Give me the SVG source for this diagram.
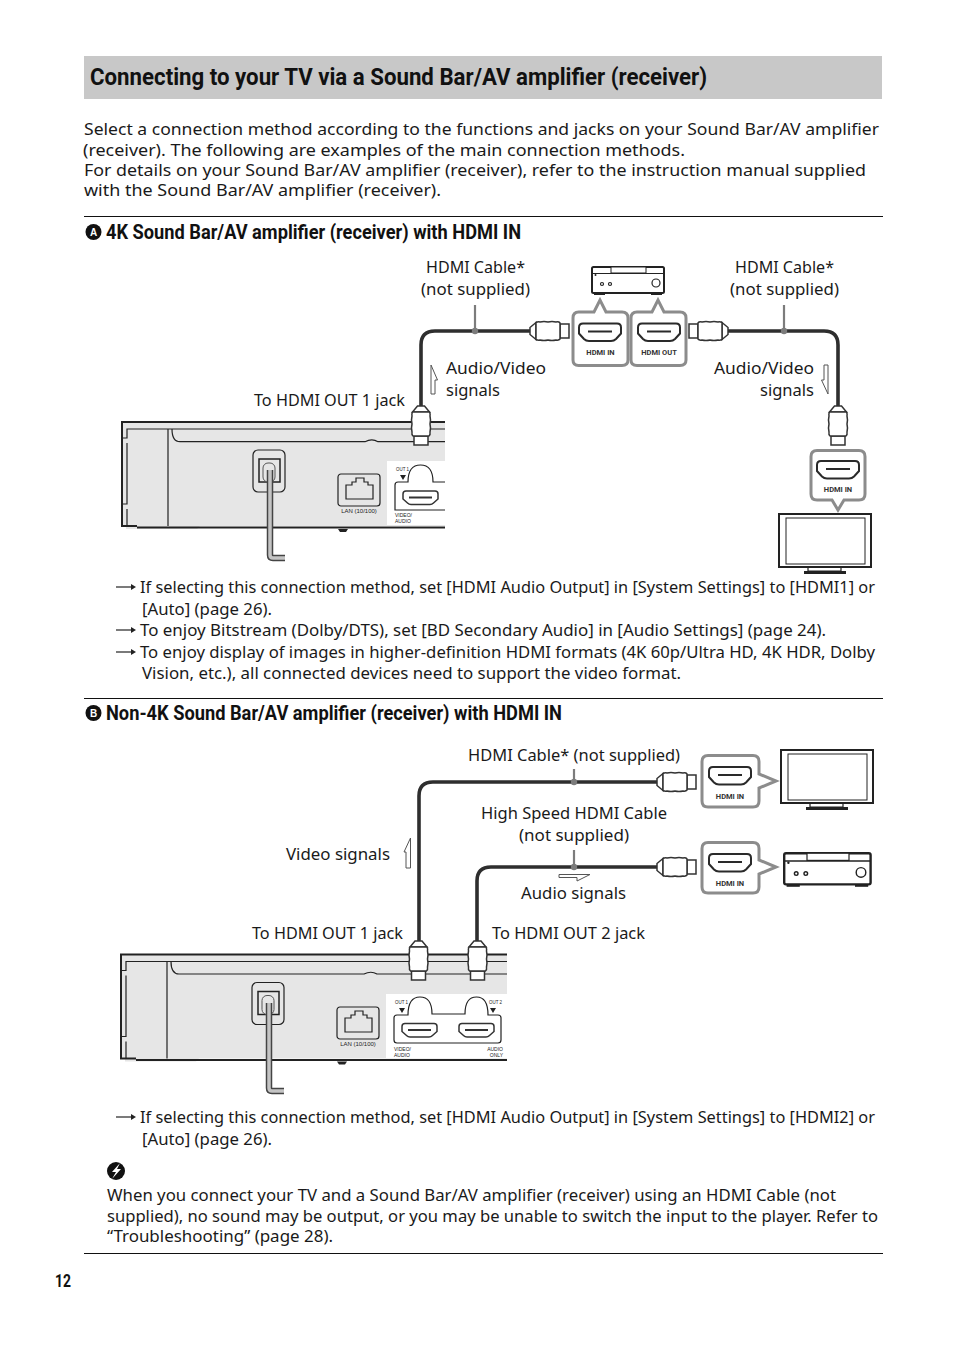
<svg xmlns="http://www.w3.org/2000/svg" width="954" height="1352" viewBox="0 0 954 1352">
<style>
text{font-family:"Noto Sans","Open Sans","Liberation Sans",sans-serif;font-size:16.6px;fill:#1a1a1a}
.s{font-size:15.900px}
.h{font-family:"Roboto","Open Sans",sans-serif;font-weight:700;fill:#111}
.m{text-anchor:middle}
.e{text-anchor:end}
.t{font-family:"Liberation Sans",sans-serif;font-size:5px;fill:#222}
.p{font-family:"Roboto","Liberation Sans",sans-serif;font-weight:700;font-size:7.5px;text-anchor:middle;fill:#333}
.rule{stroke:#111;stroke-width:1;fill:none}
.cable{stroke:#2e2e2e;stroke-width:3.6;fill:none}
.tick{stroke:#7c7c7c;stroke-width:2.2;fill:none}
.box{fill:#fff;stroke:#8c8c8c;stroke-width:3}
.sig{fill:#fff;stroke:#555;stroke-width:1}
.k{fill:none;stroke:#222;stroke-width:1.2}
.k2{fill:none;stroke:#222;stroke-width:2}
.pl{fill:#fff;stroke:#333;stroke-width:1.5}
.body{fill:#e6e6e6}
</style>
<defs>
<g id="plug"><path class="pl" d="M30 -7H39V7H30Z"/><path class="pl" d="M0 -3.500L6 -8.500V8.500L0 3.500Z"/><path class="pl" d="M6 -8.500Q8 -9.500 10 -9Q14 -10 18 -9Q22 -10 26 -9Q29 -9.500 30 -8V8Q29 9.500 26 9Q22 10 18 9Q14 10 10 9Q8 9.500 6 8.500Z"/></g>
<g id="port"><path fill="#fff" stroke="#2a2a2a" stroke-width="2" d="M4 0H38Q42 0 42 4V10L37 15.500Q35 17.500 32 17.500H10Q7 17.500 5 15.500L0 10V4Q0 0 4 0Z"/><path stroke="#2a2a2a" stroke-width="2" d="M9 8H33"/></g>
<g id="jack"><path fill="#fff" stroke="#333" stroke-width="1.500" d="M3 0H32Q35 0 35 3V8L30.500 12Q29 13.500 27 13.500H8Q6 13.500 4.500 12L0 8V3Q0 0 3 0Z"/><path stroke="#333" stroke-width="2" d="M6 6.500H29"/></g>
<g id="optical"><rect class="k" x="0" y="0" width="32" height="42" rx="5"/><rect x="6" y="9" width="21" height="23" fill="none" stroke="#222" stroke-width="1.500"/><rect x="10" y="13" width="12" height="19" rx="5" fill="#e6e6e6" stroke="#555" stroke-width="1"/></g>
<g id="lan"><rect class="k" x="0" y="0" width="42" height="32" rx="3"/><path class="k" d="M8 25V11H14V8H18V4H26V8H30V11H35V25Z" stroke-width="1"/></g>
<g id="bullet"><path d="M0 0H17" stroke="#222" stroke-width="1.200"/><path d="M15 -3L20 0L15 3Z" fill="#222"/></g>
<g id="tv"><rect x="1" y="1" width="92" height="53" fill="#fff" stroke="#222" stroke-width="2"/><rect x="8" y="5" width="79" height="46" fill="#fff" stroke="#222" stroke-width="1"/><path d="M30 55V58H63V55" fill="none" stroke="#222" stroke-width="1.200"/><rect x="26" y="58" width="42" height="3" fill="#222"/></g>
<g id="recv"><rect x="1" y="1" width="72" height="26" rx="1.500" fill="#fff" stroke="#222" stroke-width="2"/><path d="M1 7.500H73" stroke="#222" stroke-width="1.200"/><rect x="20" y="1" width="35" height="6" fill="#fff" stroke="#222" stroke-width="1"/><circle cx="4.500" cy="9" r="1" fill="#222"/><circle cx="11" cy="18" r="1.500" class="k" stroke-width="1"/><circle cx="19" cy="18" r="1.500" class="k" stroke-width="1"/><circle cx="65" cy="17" r="4" class="k"/><rect x="3" y="27" width="11" height="2" fill="#222"/><rect x="60" y="27" width="11" height="2" fill="#222"/></g>
</defs>

<g id="header"><rect x="84" y="56" width="798" height="43" fill="#c8c8c8"/>
<text class="h" x="90" y="85" style="font-size:24.500px" textLength="617" lengthAdjust="spacingAndGlyphs">Connecting to your TV via a Sound Bar/AV amplifier (receiver)</text></g>

<g id="intro">
<text x="84" y="135" textLength="795" lengthAdjust="spacingAndGlyphs">Select a connection method according to the functions and jacks on your Sound Bar/AV amplifier</text>
<text class="s" x="83" y="156" textLength="602" lengthAdjust="spacingAndGlyphs">(receiver). The following are examples of the main connection methods.</text>
<text class="s" x="84" y="176" textLength="782" lengthAdjust="spacingAndGlyphs">For details on your Sound Bar/AV amplifier (receiver), refer to the instruction manual supplied</text>
<text class="s" x="84" y="196" textLength="357" lengthAdjust="spacingAndGlyphs">with the Sound Bar/AV amplifier (receiver).</text>
</g>
<path class="rule" d="M84 216.500H883M84 698.500H883M84 1253.500H883"/>

<g id="heading-a"><circle cx="93.500" cy="232" r="8" fill="#111"/><text x="93.500" y="235.500" class="m" style="font-size:10px;fill:#fff;font-weight:700;font-family:'Liberation Sans',sans-serif">A</text>
<text class="h" x="106" y="239" style="font-size:19.500px" textLength="415" lengthAdjust="spacingAndGlyphs">4K Sound Bar/AV amplifier (receiver) with HDMI IN</text></g>

<g id="player-a">
<path class="body" d="M122 422H445V526H200L197 529H126V526H122Z"/>
<path class="k2" d="M445 422H122V526H137M137 527.500H445"/>
<path class="k" d="M445 429H127V438H122M127 443V504H122M127 509V526M168 429V526M172 429Q172 441.700 180 441.700H365Q372 438 378 441.700H445"/>
<path d="M338 529H348L346 532H340Z" fill="#222"/>
<rect x="387" y="461" width="58" height="64" fill="#fff"/>
<path class="k" d="M445 482H433Q433 465 420.500 465Q408 465 408 482H398Q395 482 395 485V510H445"/>
<text class="t" x="396" y="471" textLength="13" lengthAdjust="spacingAndGlyphs">OUT 1</text><path d="M400 475H406L403 480Z" fill="#222"/>
<use href="#jack" x="403" y="491"/>
<text class="t" x="395" y="517">VIDEO/</text><text class="t" x="395" y="523">AUDIO</text>
<use href="#optical" x="253" y="450"/>
<use href="#lan" x="338" y="474"/>
<text class="t m" x="359" y="513" style="font-size:6px">LAN (10/100)</text>
<path d="M270 470V555Q270 558 273 558H285" fill="none" stroke="#444" stroke-width="6.500"/><path d="M270 470V555Q270 558 273 558H285" fill="none" stroke="#c4c4c4" stroke-width="3.500"/>
</g>

<g id="receiver-a"><use href="#recv" x="591" y="266"/></g>
<g id="tv-a"><use href="#tv" x="778" y="513"/></g>
<g id="port-hdmi-in-a"><path class="box" d="M578.700 312H594L600 300L606 312H622Q628 312 628 318V360Q628 365.500 622 365.500H578.700Q573 365.500 573 360V318Q573 312 578.700 312Z"/><use href="#port" x="579" y="323.500"/><text class="p" x="600.500" y="355">HDMI IN</text></g>
<g id="port-hdmi-out-a"><path class="box" d="M637 312H652L658 300L664 312H680Q686 312 686 318V360Q686 365.500 680 365.500H637Q631 365.500 631 360V318Q631 312 637 312Z"/><use href="#port" x="638" y="323.500"/><text class="p" x="659" y="355">HDMI OUT</text></g>
<g id="port-tv-a"><path class="box" d="M817 450.500H859Q865 450.500 865 456.500V494Q865 500 859 500H844L838 510L832 500H817Q811 500 811 494V456.500Q811 450.500 817 450.500Z"/><use href="#port" x="817" y="461"/><text class="p" x="838" y="492">HDMI IN</text></g>

<g id="connectors-a">
<path class="cable" d="M532 331H435Q421 331 421 345V408"/>
<path class="cable" d="M726 331H824Q838 331 838 345V408"/>
<path class="tick" d="M475 305V331M784 305V331"/><circle cx="475" cy="331" r="3.200" fill="#7c7c7c"/><circle cx="784" cy="331" r="3.200" fill="#7c7c7c"/>
<use href="#plug" transform="translate(530 331)"/>
<use href="#plug" transform="translate(728 331) scale(-1 1)"/>
<use href="#plug" transform="translate(421 406) rotate(90)"/>
<use href="#plug" transform="translate(838 406) rotate(90)"/>
<path class="sig" d="M431 394H435V380H437.500L431 365Z"/>
<path class="sig" d="M828 365H824V380H821.500L828 394Z"/>
</g>

<g id="labels-a">
<text x="426" y="273" textLength="99" lengthAdjust="spacingAndGlyphs">HDMI Cable*</text><text x="421" y="295" textLength="109" lengthAdjust="spacingAndGlyphs">(not supplied)</text>
<text x="735" y="273" textLength="99" lengthAdjust="spacingAndGlyphs">HDMI Cable*</text><text x="730" y="295" textLength="109" lengthAdjust="spacingAndGlyphs">(not supplied)</text>
<text x="446" y="374" textLength="100" lengthAdjust="spacingAndGlyphs">Audio/Video</text><text x="446" y="396" textLength="54" lengthAdjust="spacingAndGlyphs">signals</text>
<text x="714" y="374" textLength="100" lengthAdjust="spacingAndGlyphs">Audio/Video</text><text x="760" y="396" textLength="54" lengthAdjust="spacingAndGlyphs">signals</text>
<text x="254" y="406" textLength="151" lengthAdjust="spacingAndGlyphs">To HDMI OUT 1 jack</text>
</g>

<g id="notes-a">
<use href="#bullet" x="116" y="587"/><use href="#bullet" x="116" y="630"/><use href="#bullet" x="116" y="652"/>
<text x="140" y="593" textLength="735" lengthAdjust="spacingAndGlyphs">If selecting this connection method, set [HDMI Audio Output] in [System Settings] to [HDMI1] or</text>
<text x="142" y="615" textLength="130" lengthAdjust="spacingAndGlyphs">[Auto] (page 26).</text>
<text x="140" y="636" textLength="686" lengthAdjust="spacingAndGlyphs">To enjoy Bitstream (Dolby/DTS), set [BD Secondary Audio] in [Audio Settings] (page 24).</text>
<text x="140" y="658" textLength="735" lengthAdjust="spacingAndGlyphs">To enjoy display of images in higher-definition HDMI formats (4K 60p/Ultra HD, 4K HDR, Dolby</text>
<text x="142" y="679" textLength="539" lengthAdjust="spacingAndGlyphs">Vision, etc.), all connected devices need to support the video format.</text>
</g>

<g id="heading-b"><circle cx="93.500" cy="713" r="8" fill="#111"/><text x="93.500" y="716.500" class="m" style="font-size:10px;fill:#fff;font-weight:700;font-family:'Liberation Sans',sans-serif">B</text>
<text class="h" x="106" y="720" style="font-size:19.500px" textLength="456" lengthAdjust="spacingAndGlyphs">Non-4K Sound Bar/AV amplifier (receiver) with HDMI IN</text></g>

<g id="player-b">
<path class="body" d="M121 954.500H507V1058.500H199L196 1061.500H125V1058.500H121Z"/>
<path class="k2" d="M507 954.500H121V1058.500H136M136 1060H507"/>
<path class="k" d="M507 961.500H126V970.500H121M126 975.500V1036.500H121M126 1041.500V1058.500M167 961.500V1058.500M171 961.500Q171 974 179 974H364Q371 970.500 377 974H507"/>
<path d="M337 1061.500H347L345 1064.500H339Z" fill="#222"/>
<rect x="386" y="994" width="121" height="64" fill="#fff"/>
<path class="k" d="M394 1040V1018Q394 1015 397 1015H408Q408 997 420 997Q432 997 432 1014H465Q465 997 476.500 997Q488 997 488 1015H498Q501 1015 501 1018V1040Q501 1043 498 1043H397Q394 1043 394 1040Z"/>
<text class="t" x="395" y="1004" textLength="13" lengthAdjust="spacingAndGlyphs">OUT 1</text><path d="M399 1008H405L402 1013Z" fill="#222"/>
<text class="t" x="489" y="1004" textLength="13" lengthAdjust="spacingAndGlyphs">OUT 2</text><path d="M490 1008H496L493 1013Z" fill="#222"/>
<use href="#jack" x="402" y="1023.500"/><use href="#jack" x="459" y="1023.500"/>
<text class="t" x="394" y="1051">VIDEO/</text><text class="t" x="394" y="1057">AUDIO</text>
<text class="t e" x="503" y="1051">AUDIO</text><text class="t e" x="503" y="1057">ONLY</text>
<use href="#optical" x="252" y="982.500"/>
<use href="#lan" x="337" y="1007"/>
<text class="t m" x="358" y="1045.500" style="font-size:6px">LAN (10/100)</text>
<path d="M269 1003V1088Q269 1091 272 1091H284" fill="none" stroke="#444" stroke-width="6.500"/><path d="M269 1003V1088Q269 1091 272 1091H284" fill="none" stroke="#c4c4c4" stroke-width="3.500"/>
</g>

<g id="tv-b"><use href="#tv" x="780" y="749"/></g>
<g id="receiver-b"><use href="#recv" transform="translate(783 852) scale(1.200)"/></g>
<g id="port-tv-b"><path class="box" d="M708 755.500H753Q759 755.500 759 761.500V774L776 781L759 788V801Q759 807 753 807H708Q702 807 702 801V761.500Q702 755.500 708 755.500Z"/><use href="#port" x="709" y="767"/><text class="p" x="730" y="799">HDMI IN</text></g>
<g id="port-recv-b"><path class="box" d="M708 842.500H753Q759 842.500 759 848.500V860L776 867L759 874V887Q759 893 753 893H708Q702 893 702 887V848.500Q702 842.500 708 842.500Z"/><use href="#port" x="709" y="854"/><text class="p" x="730" y="886">HDMI IN</text></g>

<g id="connectors-b">
<path class="cable" d="M659 782H433Q419 782 419 796V942"/>
<path class="cable" d="M659 867H491Q477 867 477 881V942"/>
<path class="tick" d="M574 769V782M574 850V867"/><circle cx="574" cy="782" r="3.200" fill="#7c7c7c"/><circle cx="574" cy="867" r="3.200" fill="#7c7c7c"/>
<use href="#plug" transform="translate(657 782)"/>
<use href="#plug" transform="translate(657 867)"/>
<use href="#plug" transform="translate(418.500 941) rotate(90)"/>
<use href="#plug" transform="translate(477.500 941) rotate(90)"/>
<path class="sig" d="M410.500 868H406V852H404L410.500 838Z"/>
<path class="sig" d="M559 874.500H590L577 881V877.500H559Z"/>
</g>

<g id="labels-b">
<text x="468" y="761" textLength="212" lengthAdjust="spacingAndGlyphs">HDMI Cable* (not supplied)</text>
<text x="481" y="819" textLength="186" lengthAdjust="spacingAndGlyphs">High Speed HDMI Cable</text><text x="519" y="841" textLength="110" lengthAdjust="spacingAndGlyphs">(not supplied)</text>
<text x="286" y="860" textLength="104" lengthAdjust="spacingAndGlyphs">Video signals</text>
<text x="521" y="899" textLength="105" lengthAdjust="spacingAndGlyphs">Audio signals</text>
<text x="252" y="939" textLength="151" lengthAdjust="spacingAndGlyphs">To HDMI OUT 1 jack</text>
<text x="492" y="939" textLength="153" lengthAdjust="spacingAndGlyphs">To HDMI OUT 2 jack</text>
</g>

<g id="notes-b">
<use href="#bullet" x="116" y="1117"/>
<text x="140" y="1123" textLength="735" lengthAdjust="spacingAndGlyphs">If selecting this connection method, set [HDMI Audio Output] in [System Settings] to [HDMI2] or</text>
<text x="142" y="1145" textLength="130" lengthAdjust="spacingAndGlyphs">[Auto] (page 26).</text>
<circle cx="116" cy="1171" r="9" fill="#111"/><path d="M120 1163L112 1172H116L112 1179L121 1169H117Z" fill="#fff"/>
<text x="107" y="1201" textLength="729" lengthAdjust="spacingAndGlyphs">When you connect your TV and a Sound Bar/AV amplifier (receiver) using an HDMI Cable (not</text>
<text class="s" x="107" y="1222" textLength="771" lengthAdjust="spacingAndGlyphs">supplied), no sound may be output, or you may be unable to switch the input to the player. Refer to</text>
<text class="s" x="107" y="1242" textLength="226" lengthAdjust="spacingAndGlyphs">“Troubleshooting” (page 28).</text>
</g>
<text id="page" class="h" x="55" y="1287" style="font-size:19px" textLength="16" lengthAdjust="spacingAndGlyphs">12</text>
</svg>
